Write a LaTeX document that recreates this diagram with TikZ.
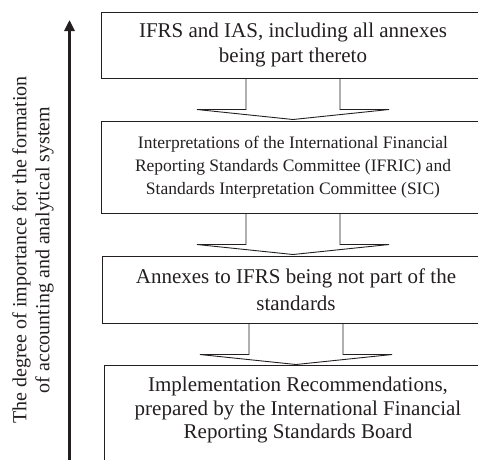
\documentclass[tikz,border=0pt]{standalone}
\usepackage{fontspec}
\setmainfont{Liberation Serif}
\usetikzlibrary{calc,arrows.meta}
\definecolor{ink}{RGB}{35,31,32}

% hollow block arrow from the bottom of one box to the top of the next
\newcommand{\flowdown}[2]{%
  \draw[hollow] let \p1=(#1.south), \p2=(#2.north) in
    (\x1-47pt,\y1) -- (\x1-47pt,\y2+11pt) -- (\x1-96pt,\y2+11pt)
    -- (\x1,\y2+1pt) -- (\x1+96pt,\y2+11pt) -- (\x1+47pt,\y2+11pt)
    -- (\x1+47pt,\y1);}

\begin{document}
\begin{tikzpicture}[x=1pt,y=-1pt,
  level/.style={draw=ink, line width=1pt, text=ink, align=center, inner sep=0pt},
  bigtext/.style={font=\fontsize{21}{25}\selectfont},
  hollow/.style={draw=ink, line width=0.9pt, line join=miter},
  scalearrow/.style={draw=ink, line width=2.6pt, -{Triangle[length=11pt,width=10pt]}}]
\useasboundingbox (0,0) rectangle (478,459);
\clip (0,0) rectangle (478,459);

% levels of the hierarchy, from most to least important
\node[level, bigtext, minimum width=384pt, minimum height=66pt] (ifrs) at (293,45)
  {IFRS and IAS, including all annexes\\being part thereto};
\node[level, font=\fontsize{17.5}{23}\selectfont, minimum width=384pt, minimum height=92pt] (interp) at (293,167)
  {Interpretations of the International Financial\\Reporting Standards Committee (IFRIC) and\\Standards Interpretation Committee (SIC)};
\node[level, font=\fontsize{21}{27}\selectfont, minimum width=388pt, minimum height=67pt] (annex) at (296,289.5)
  {Annexes to IFRS being not part of the\\standards};
\node[level, draw=none, font=\fontsize{21}{23.5}\selectfont, minimum width=386pt, minimum height=88pt] (recs) at (298,410)
  {Implementation Recommendations,\\prepared by the International Financial\\Reporting Standards Board};
\draw[ink, line width=1pt] ($(recs.south west)+(0,30)$) -- (recs.north west)
  -- (recs.north east) -- ($(recs.south east)+(0,30)$);

% block arrows between the levels
\flowdown{ifrs}{interp}
\flowdown{interp}{annex}
\flowdown{annex}{recs}

% importance scale
\coordinate (scalebase) at (69.5,470);
\coordinate (scaletop) at (69.5,20);
\draw[scalearrow] (scalebase) -- (scaletop);
\node[rotate=90, align=center, text=ink, font=\fontsize{20}{23}\selectfont] (scalelabel) at (33,250)
  {The degree of importance for the formation\\of accounting and analytical system};
\end{tikzpicture}
\end{document}
